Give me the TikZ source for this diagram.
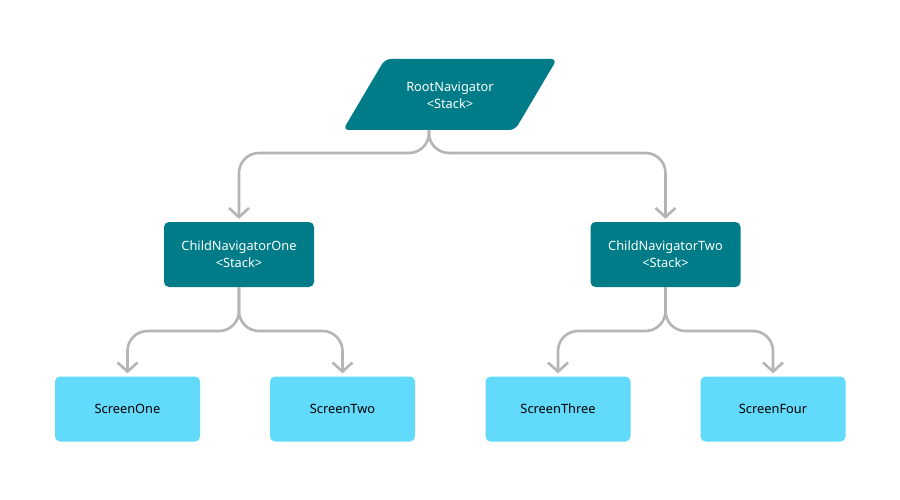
\documentclass[tikz,border=0pt]{standalone}
\usepackage{fontspec}
\setmainfont{Noto Sans}
\usetikzlibrary{arrows.meta,calc}
\definecolor{tealnav}{HTML}{007C89}
\definecolor{cyanscreen}{HTML}{61DAFB}
\definecolor{linegray}{HTML}{B5B5B5}
\begin{document}
\begin{tikzpicture}[x=1pt,y=-1pt,
  lbl/.style={font=\fontsize{12.8}{17}\selectfont, align=center, inner sep=0pt},
  rootshape/.style={fill=tealnav, rounded corners=6pt},
  rootlbl/.style={lbl, text=white},
  nav/.style={lbl, fill=tealnav, text=white, rounded corners=5pt, minimum width=150pt, minimum height=65pt},
  screen/.style={lbl, fill=cyanscreen, text=black, rounded corners=5pt, minimum width=145pt, minimum height=65pt},
  conn/.style={draw=linegray, line width=2.6pt, rounded corners=20pt,
    -{Straight Barb[length=9pt,width=20pt]}, shorten >=3pt}]
\useasboundingbox[fill=white] (0,0) rectangle (900,500);

\coordinate (tl) at (385,59);
\coordinate (tr) at (557,59);
\coordinate (br) at (515,130);
\coordinate (bl) at (343,130);
\fill[rootshape] (tl) -- (tr) -- (br) -- (bl) -- cycle;
\node[rootlbl] (root) at (450,95.5) {RootNavigator\\<Stack>};
\node[nav] (c1) at (239,254.5) {ChildNavigatorOne\\<Stack>};
\node[nav] (c2) at (665.5,254.5) {ChildNavigatorTwo\\<Stack>};
\node[screen] (s1) at (127.5,409) {ScreenOne};
\node[screen] (s2) at (342.5,409) {ScreenTwo};
\node[screen] (s3) at (558,409) {ScreenThree};
\node[screen] (s4) at (773,409) {ScreenFour};

\coordinate (rs) at ($(bl)!0.5!(br)$);

\draw[conn] (rs) -- (rs |- 0,153) -- (c1.north |- 0,153) -- (c1.north);
\draw[conn] (rs) -- (rs |- 0,153) -- (c2.north |- 0,153) -- (c2.north);
\draw[conn] (c1.south) -- (c1.south |- 0,331) -- (s1.north |- 0,331) -- (s1.north);
\draw[conn] (c1.south) -- (c1.south |- 0,331) -- (s2.north |- 0,331) -- (s2.north);
\draw[conn] (c2.south) -- (c2.south |- 0,331) -- (s3.north |- 0,331) -- (s3.north);
\draw[conn] (c2.south) -- (c2.south |- 0,331) -- (s4.north |- 0,331) -- (s4.north);
\end{tikzpicture}
\end{document}
